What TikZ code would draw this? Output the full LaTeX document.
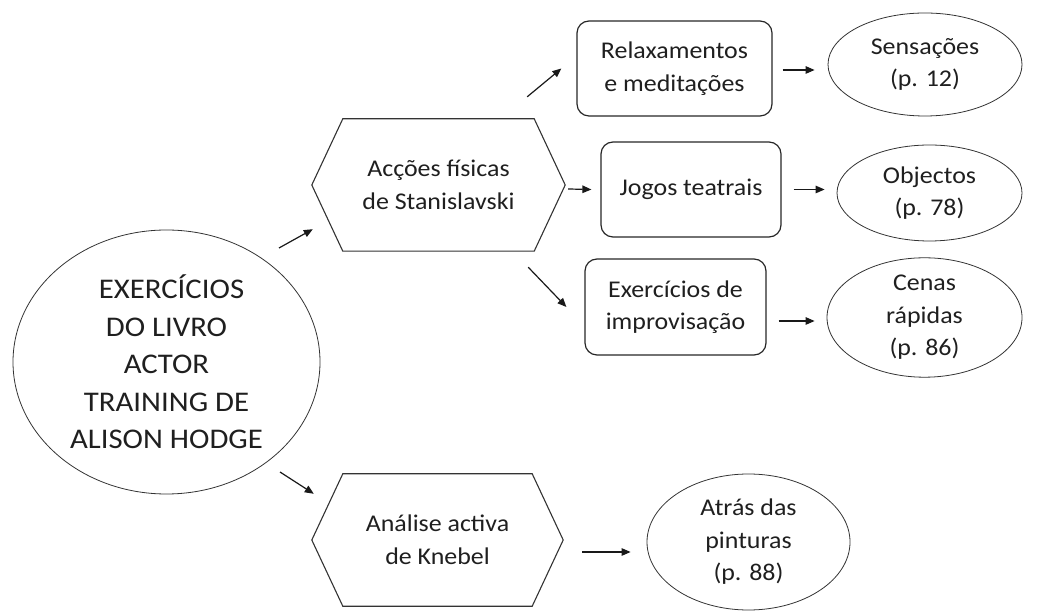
\documentclass[tikz,border=0pt]{standalone}
\usepackage{fontspec}
\setmainfont{Carlito}[FakeStretch=1.08]
\usetikzlibrary{arrows.meta,calc,shapes.geometric}
\begin{document}
\begin{tikzpicture}[x=1pt,y=1pt,
  txt/.style={font=\fontsize{24}{32.5}\selectfont, text=black!88, align=center, inner sep=0pt},
  ell/.style={txt, ellipse, draw=black!80, line width=0.8pt},
  rbox/.style={txt, rectangle, rounded corners=12pt, draw=black!85, line width=1.2pt},
  hexbox/.style={txt, rectangle, minimum width=#1, minimum height=132pt},
  hexline/.style={draw=black!80, line width=1.1pt},
  arr/.style={-{Triangle[length=9pt,width=7.5pt]}, line width=1.2pt, black!90}]
\useasboundingbox (0,0) rectangle (1043,610);
% main ellipse
\node[ell, minimum width=307pt, minimum height=264pt, font=\fontsize{28.5}{37.5}\selectfont]
  (big) at (166.5,248) {\hspace*{10pt}EXERC\'ICIOS\\DO LIVRO\\ACTOR\\TRAINING DE\\ALISON HODGE};
% hexagons
\node[hexbox=253pt] (h1) at (438.5,425) {Acções físicas\\de Stanislavski};
\node[hexbox=251pt] (h2) at (437.5,70) {Análise activa\\de Knebel};
\foreach \h in {h1,h2}{
  \draw[hexline] (\h.west) -- ($(\h.north west)+(31,0)$) -- ($(\h.north east)+(-31,0)$)
    -- (\h.east) -- ($(\h.south east)+(-31,0)$) -- ($(\h.south west)+(31,0)$) -- cycle;
}
% rounded boxes
\node[rbox, minimum width=195pt, minimum height=95pt] (r1) at (674.5,541.5) {Relaxamentos\\e meditações};
\node[rbox, minimum width=180pt, minimum height=95pt] (r2) at (691,420.5) {Jogos teatrais};
\node[rbox, minimum width=181pt, minimum height=96pt] (r3) at (675.5,303) {Exercícios de\\improvisação};
% ellipses
\node[ell, minimum width=194pt, minimum height=103pt] (sens) at (925,545.5) {Sensações\\(p. 12)};
\node[ell, minimum width=185pt, minimum height=96pt] (obj) at (929.5,417) {Objectos\\(p. 78)};
\node[ell, minimum width=195pt, minimum height=101pt] (cen) at (924.5,292.5) {Cenas\\rápidas\\(p. 86)};
\node[ell, minimum width=203pt, minimum height=136pt] (atr) at (748.5,68) {Atrás das\\pinturas\\(p. 88)};
% arrows
\draw[arr] ($(big.center)+(112.5,114)$) -- ($(h1.south west)+(1,22)$);
\draw[arr] ($(big.center)+(113.5,-110)$) -- ($(h2.north west)+(2,-20)$);
\draw[arr] ($(h1.north east)+(-38,22)$) -- ($(r1.west)+(-15,0)$);
\draw[arr] ($(h1.east)+(3,-4)$) -- ($(r2.west)+(-9,0)$);
\draw[arr] ($(h1.south east)+(-37,-16)$) -- ($(r3.west)+(-18,0)$);
\draw[arr] ($(r1.east)+(10,-1.5)$) -- ($(r1.east -| sens.west)+(-13,-1.5)$);
\draw[arr] ($(r2.east)+(12,0)$) -- ($(r2.east -| obj.west)+(-12,0)$);
\draw[arr] ($(r3.east)+(12,-14)$) -- ($(r3.east -| cen.west)+(-12,-14)$);
\draw[arr] ($(h2.east)+(19,-12)$) -- ($(h2.east -| atr.west)+(-16,-12)$);
\end{tikzpicture}
\end{document}
